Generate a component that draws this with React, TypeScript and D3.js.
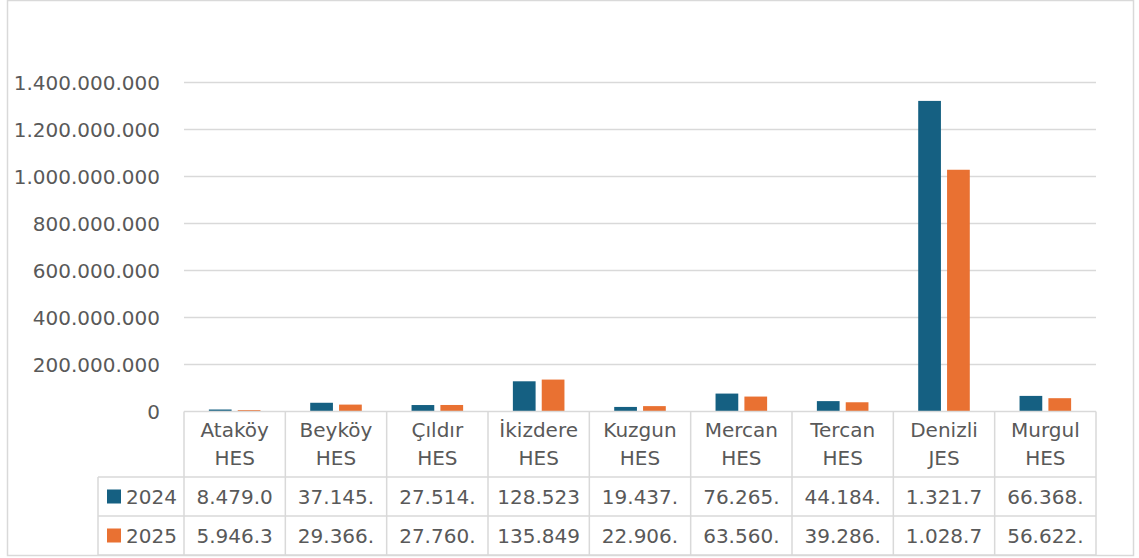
import * as React from 'react'
import * as d3 from 'd3'

const plants = ['Ataköy HES', 'Beyköy HES', 'Çıldır HES', 'İkizdere HES', 'Kuzgun HES', 'Mercan HES', 'Tercan HES', 'Denizli JES', 'Murgul HES']
const series = ['2024', '2025']
const values2024 = [8479000, 37145000, 27514000, 128523000, 19437000, 76265000, 44184000, 1321700000, 66368000]
const values2025 = [5946300, 29366000, 27760000, 135849000, 22906000, 63560000, 39286000, 1028700000, 56622000]
const yTicks = [0, 200000000, 400000000, 600000000, 800000000, 1000000000, 1200000000, 1400000000]

const colors = {'2024': '#156082', '2025': '#E97132'}
const textColor = '#595959'
const lineColor = '#D9D9D9'
const font = '"DejaVu Sans", sans-serif'

const tr = d3.formatLocale({decimal: ',', thousands: '.', grouping: [3], currency: ['', '']})
const fmt = tr.format(',.0f')

const App = () => {
    const width = 1139
    const height = 558
    const left = 184, right = 1096, top = 82.5, bottom = 411.5
    const rowH = 39

    const xScale = d3.scaleBand().domain(plants).range([left, right]).paddingInner(0).paddingOuter(0)
    const xInner = d3.scaleBand().domain(series).range([0, xScale.bandwidth()]).paddingInner(0.2126).paddingOuter(0.862)
    const yScale = d3.scaleLinear().domain([0, 1400000000]).range([bottom, top])

    const data = {'2024': values2024, '2025': values2025}
    const headerBottom = 477
    const rowTops = [headerBottom, headerBottom + rowH]
    const tableBottom = headerBottom + 2 * rowH

    return (
        <div style={{position: 'absolute', left: 0, top: 0}}>
            <svg width={width} height={height} style={{display: 'block', fontFamily: font}}>
                <rect x={7.5} y={0.5} width={1126} height={555} fill='#fff' stroke={lineColor} strokeWidth={1.5} />

                {yTicks.filter(t => t > 0).map(t => (
                    <line key={t} x1={left} x2={right} y1={yScale(t)} y2={yScale(t)} stroke={lineColor} strokeWidth={1.5} />
                ))}
                {yTicks.map(t => (
                    <text key={'l' + t} x={160} y={yScale(t)} dy='0.36em' textAnchor='end' fontSize={20} fill={textColor}>{fmt(t)}</text>
                ))}

                {series.map(s => data[s].map((v, i) => (
                    <rect key={s + i} x={xScale(plants[i]) + xInner(s)} y={yScale(v)} width={xInner.bandwidth()}
                          height={bottom - yScale(v)} fill={colors[s]} />
                )))}

                {/* data table */}
                <g stroke={lineColor} strokeWidth={1.5} fill='none'>
                    <line x1={left} x2={right} y1={bottom} y2={bottom} />
                    <line x1={98} x2={right} y1={headerBottom} y2={headerBottom} />
                    <line x1={98} x2={right} y1={headerBottom + rowH} y2={headerBottom + rowH} />
                    <line x1={98} x2={right} y1={tableBottom} y2={tableBottom} />
                    <line x1={98} x2={98} y1={headerBottom} y2={tableBottom} />
                    {plants.map(p => (
                        <line key={p} x1={xScale(p)} x2={xScale(p)} y1={bottom} y2={tableBottom} />
                    ))}
                    <line x1={right} x2={right} y1={bottom} y2={tableBottom} />
                </g>

                {plants.map(p => {
                    const words = p.split(' ')
                    const cx = xScale(p) + xScale.bandwidth() / 2
                    return (
                        <text key={'h' + p} x={cx} textAnchor='middle' fontSize={20} fill={textColor}>
                            <tspan x={cx} y={430} dy='0.36em'>{words[0]}</tspan>
                            <tspan x={cx} y={458} dy='0.36em'>{words[1]}</tspan>
                        </text>
                    )
                })}

                {series.map((s, si) => {
                    const cy = rowTops[si] + rowH / 2
                    return (
                        <g key={'r' + s}>
                            <rect x={107} y={cy - 7} width={14} height={14} fill={colors[s]} />
                            <text x={126} y={cy} dy='0.36em' fontSize={20} fill={textColor}>{s}</text>
                            {data[s].map((v, i) => (
                                <text key={i} x={xScale(plants[i]) + xScale.bandwidth() / 2} y={cy} dy='0.36em'
                                      textAnchor='middle' fontSize={20} fill={textColor}>{fmt(v).slice(0, 7)}</text>
                            ))}
                        </g>
                    )
                })}
            </svg>
        </div>
    )
}

export default App
